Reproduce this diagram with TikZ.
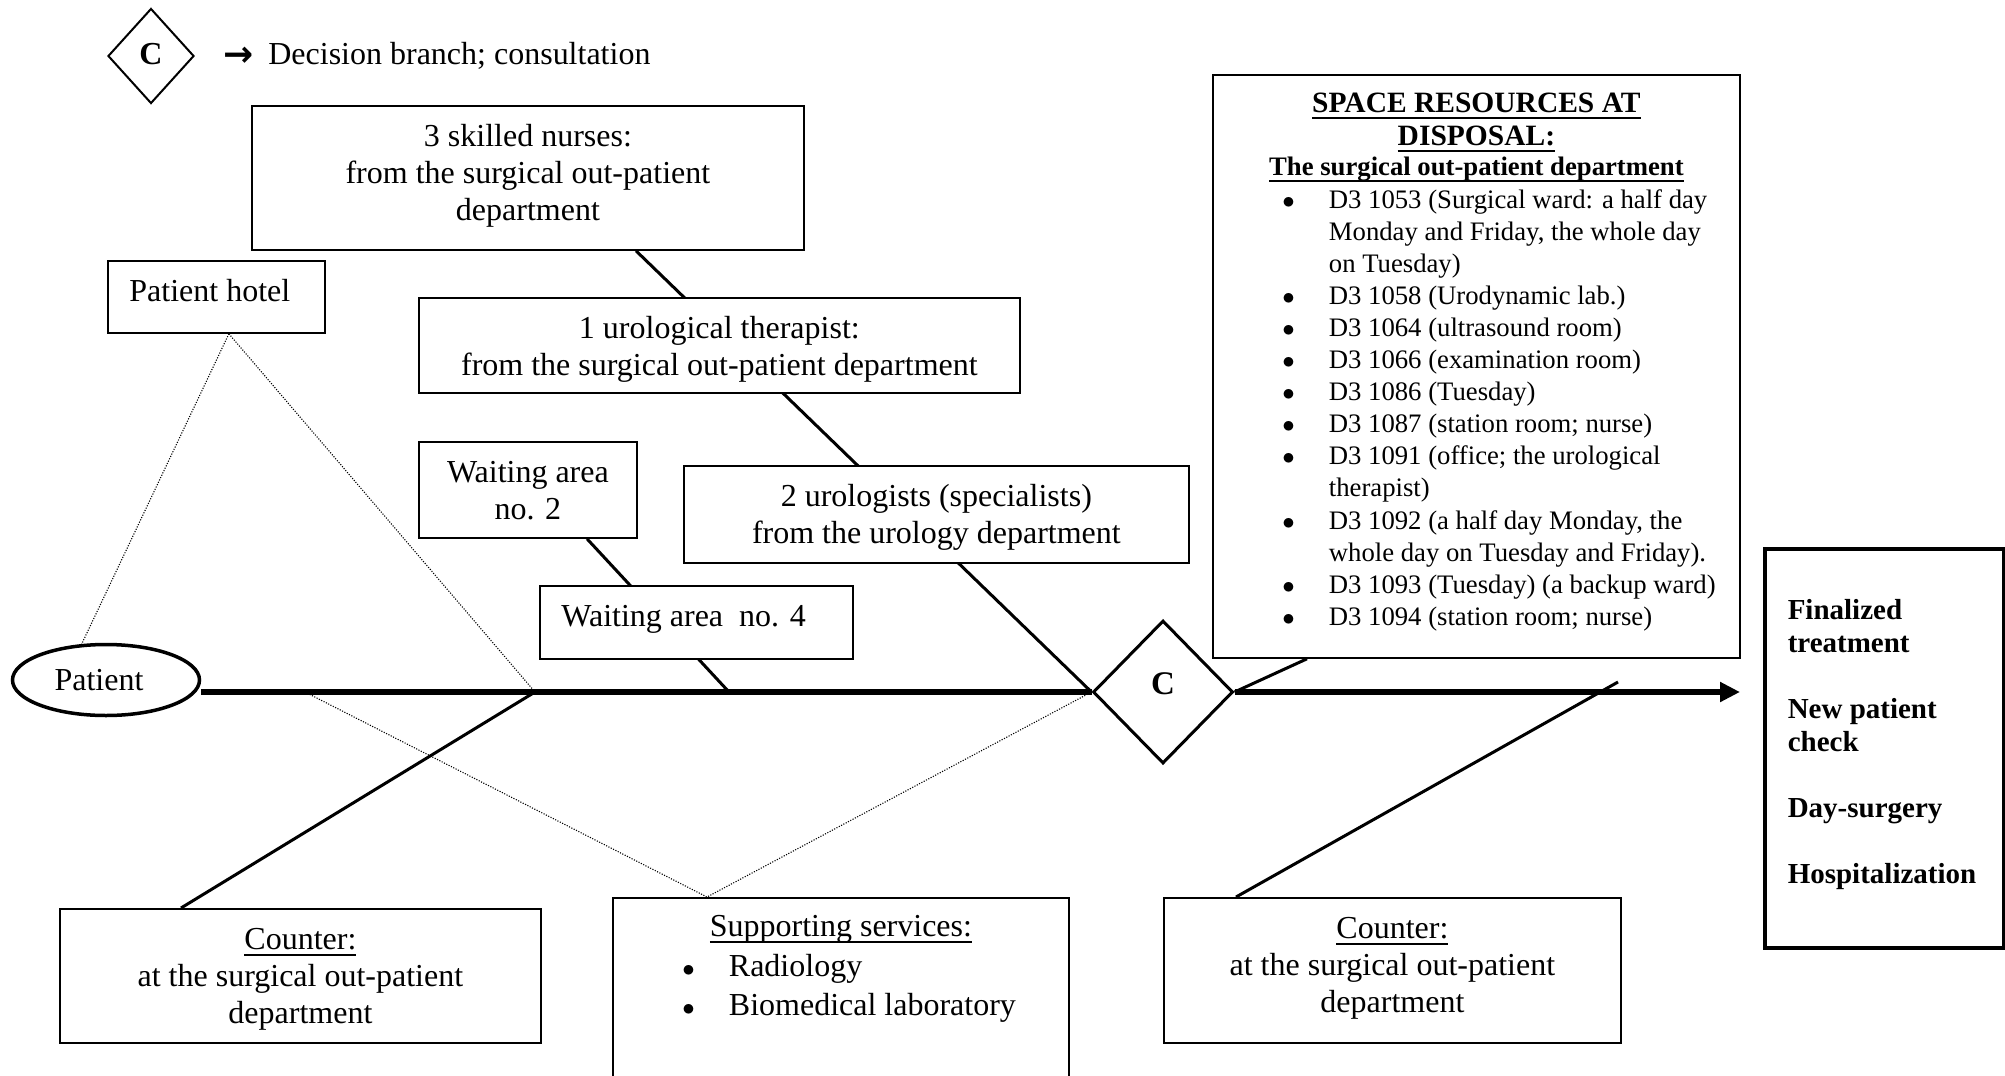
\documentclass[tikz,border=0pt]{standalone}
\usepackage{fontspec}
\setmainfont{Liberation Serif}
\newfontfamily\symfont{DejaVu Sans}
\usetikzlibrary{shapes.geometric,arrows.meta,calc,backgrounds}
\newcommand\ulin[1]{\leavevmode\setbox0\hbox{#1}\rlap{\rule[-6.5pt]{\wd0}{2pt}}\box0}
\newcommand\mainfs{\fontsize{32}{37}\selectfont}
\newcommand\bxc[3]{\parbox[c][#2][t]{#1}{\centering\mainfs\vspace*{15pt}\strut#3\par}}
\newcommand\bxl[3]{\parbox[c][#2][t]{#1}{\raggedright\leftskip=21.5pt\mainfs\vspace*{15pt}\strut#3\par}}
\newcommand\itm[1]{\par\hspace*{69.5pt}\makebox[46.5pt][l]{$\bullet$}#1}
\newcommand\cnt[1]{\par\hspace*{116pt}#1}
\tikzset{
 rbox/.style={draw, fill=white, line width=1.8pt, inner sep=0pt, anchor=north west},
 bone/.style={line width=3pt},
 dots/.style={line width=1.1pt, dash pattern=on 1.1pt off 1.5pt},
 spine/.style={line width=6.5pt},
 dec/.style={diamond, draw, fill=white, inner sep=0pt},
}
\begin{document}
\begin{tikzpicture}[x=1pt,y=-1pt]
\useasboundingbox (0,0) rectangle (2005,1076);
\clip (0,0) rectangle (2005,1076);

% legend
\node[dec, line width=2pt, minimum width=86pt, minimum height=95pt,
      font=\fontsize{32}{32}\selectfont\bfseries, text height=21pt, text depth=5pt] (legC) at (151,56) {C};
\node[anchor=base west, inner sep=0pt, font=\mainfs] (legtext) at (223,64)
  {\raisebox{-2pt}{\symfont\bfseries\fontsize{36}{36}\selectfont →}\hspace{15pt}Decision branch; consultation};

% upper boxes
\node[rbox] (nurses) at (251,105) {\bxc{552pt}{144pt}{3 skilled nurses:\\ from the surgical out-patient\\ department}};
\node[rbox] (hotel) at (107,260) {\bxl{217pt}{72pt}{Patient hotel}};
\node[rbox] (uro) at (418,297) {\bxc{601pt}{95pt}{1 urological therapist:\\ from the surgical out-patient department}};
\node[rbox] (wait2) at (418,441) {\bxc{218pt}{96pt}{Waiting area\\ no. 2}};
\node[rbox] (urologists) at (683,465) {\bxc{505pt}{97pt}{2 urologists (specialists)\\ from the urology department}};
\node[rbox] (wait4) at (539,585) {\bxl{313pt}{73pt}{Waiting area\ \ no. 4}};

% space resources
\node[rbox] (space) at (1212,74) {\parbox[c][583pt][t]{527pt}{%
 \vspace*{13pt}%
 {\centering\fontsize{29.5}{33}\selectfont\bfseries\rule{0pt}{25pt}\ulin{SPACE RESOURCES AT}\\ \ulin{DISPOSAL:}\par}%
 {\centering\fontsize{26.7}{30}\selectfont\bfseries\ulin{The surgical out-patient department}\par}%
 {\raggedright\fontsize{26.7}{32.1}\selectfont
 \itm{D3 1053 (Surgical ward: a half day}
 \cnt{Monday and Friday, the whole day}
 \cnt{on Tuesday)}
 \itm{D3 1058 (Urodynamic lab.)}
 \itm{D3 1064 (ultrasound room)}
 \itm{D3 1066 (examination room)}
 \itm{D3 1086 (Tuesday)}
 \itm{D3 1087 (station room; nurse)}
 \itm{D3 1091 (office; the urological}
 \cnt{therapist)}
 \itm{D3 1092 (a half day Monday, the}
 \cnt{whole day on Tuesday and Friday).}
 \itm{D3 1093 (Tuesday) (a backup ward)}
 \itm{D3 1094 (station room; nurse)}
 \par}}};

% outcomes
\node[rbox, line width=3.5pt] (outcome) at (1763,547) {\parbox[c][399pt][t]{239pt}{\raggedright\leftskip=23pt\fontsize{29}{33}\selectfont\bfseries\vspace*{47.9pt}\strut Finalized\\ treatment\\[33pt] New patient\\ check\\[33pt] Day-surgery\\[33pt] Hospitalization\par}};

% lower boxes
\node[rbox] (counterL) at (59,908) {\bxc{481pt}{134pt}{\ulin{Counter:}\\ at the surgical out-patient\\ department}};
\node[rbox] (support) at (612,897) {\parbox[c][200pt][t]{456pt}{\mainfs\vspace*{13.1pt}{\centering\strut\ulin{Supporting services:}\par}{\raggedright\fontsize{32}{39.5}\selectfont\hspace*{69.4pt}\makebox[46.6pt][l]{$\bullet$}Radiology\par\hspace*{69.4pt}\makebox[46.6pt][l]{$\bullet$}Biomedical laboratory\par}}};
\node[rbox] (counterR) at (1163,897) {\bxc{457pt}{145pt}{\ulin{Counter:}\\ at the surgical out-patient\\ department}};

% patient and decision
\node[ellipse, draw, fill=white, line width=3.5pt, minimum width=187pt, minimum height=71pt, inner sep=0pt, font=\mainfs] (patient) at (106,680) {Patient\kern14pt};
\node[dec, line width=3pt, minimum width=140pt, minimum height=143pt,
      font=\fontsize{33}{33}\selectfont\bfseries, text height=23pt, text depth=18pt] (C) at (1163,692) {C};

% free ends
\coordinate (j1) at (535,692);
\coordinate (j2) at (729,692);
\coordinate (k1) at (1618,682);
\coordinate (d1) at (305,692);
\coordinate (tip) at (1740,692);

\begin{scope}[on background layer]
 \draw[bone] ($(nurses.south west)+(385,0)$) -- (C.west);
 \draw[bone] ($(wait2.south west)+(169,0)$) -- (j2);
 \draw[bone] ($(counterL.north west)+(122,0)$) -- (j1);
 \draw[bone] ($(counterR.north west)+(73,0)$) -- (k1);
 \draw[bone] (C.east) -- ($(space.south west)+(95,0)$);
 \draw[dots] ($(hotel.south)+(12.5,0)$) -- (patient.124);
 \draw[dots] ($(hotel.south)+(12.5,0)$) -- (j1);
 \draw[dots] (d1) -- ($(support.north west)+(95,0)$) -- (C.west);
\end{scope}
\draw[spine] (patient.east |- C.west) -- (C.west);
\draw[spine, -{Triangle[length=20pt,width=19pt]}] (C.east) -- (tip);
\end{tikzpicture}
\end{document}
